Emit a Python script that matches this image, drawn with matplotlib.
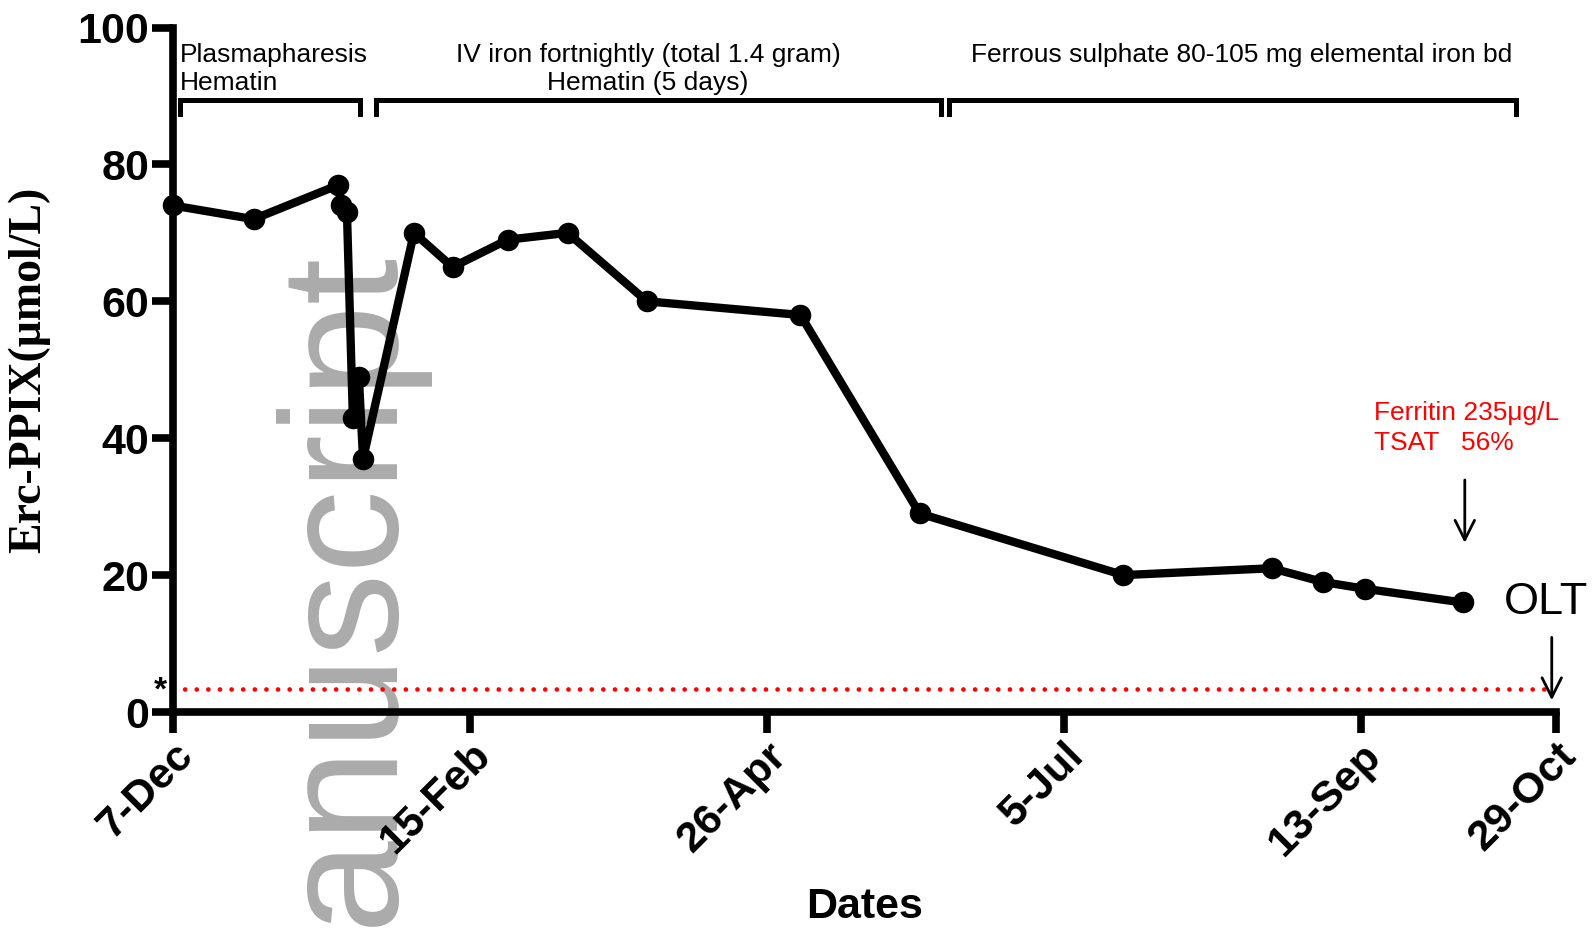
import matplotlib.pyplot as plt
import numpy as np
from matplotlib.transforms import ScaledTranslation

plt.switch_backend('agg')

# days counted from 7-Dec
days = [0, 19, 39, 39.6, 41, 42.4, 43.8, 44.8, 56.8, 65.9, 78.9, 93, 111.7,
        147.9, 176, 224, 259, 271, 281, 304]
erc_ppix = [74, 72, 77, 74, 73, 43, 49, 37, 70, 65, 69, 70, 60, 58, 29,
            20, 21, 19, 18, 16]

tick_days = [0, 70, 140, 210, 280, 326]
tick_labels = ['7-Dec', '15-Feb', '26-Apr', '5-Jul', '13-Sep', '29-Oct']
y_ticks = [0, 20, 40, 60, 80, 100]

ref_level = 3.4
olt_day = 325

# treatment periods: (start, end, text, text x, alignment)
periods = [
    (1.7, 44.1, 'Plasmapharesis\nHematin', 1.7, 'left'),
    (47.9, 181, 'IV iron fortnightly (total 1.4 gram)\nHematin (5 days)', 112, 'center'),
    (183, 316.5, 'Ferrous sulphate 80-105 mg elemental iron bd', 252, 'center'),
]

W, H = 1595, 933
fig = plt.figure(figsize=(W / 100, H / 100), dpi=100)
ax = fig.add_axes([173 / W, 1 - 712 / H, (1556 - 173) / W, (712 - 27.5) / H])

ax.plot(days, erc_ppix, color='black', lw=6, marker='o', ms=14.5, zorder=3,
        clip_on=False)

ax.plot([0, olt_day], [ref_level, ref_level], color='red', lw=3.4,
        linestyle=(0, (0.01, 2.45)), dash_capstyle='round', zorder=2, clip_on=False)
ax.text(-1.5, ref_level - 0.4, '*', ha='right', va='center', fontsize=24,
        fontfamily='Liberation Sans', fontweight='bold')

ax.set_xlim(0, 326)
ax.set_ylim(0, 100)
ax.set_xticks(tick_days)
ax.set_xticklabels(tick_labels, rotation=45, ha='right', rotation_mode='anchor')
ax.set_yticks(y_ticks)
for lab in ax.get_xticklabels() + ax.get_yticklabels():
    lab.set_fontfamily('Liberation Sans')
    lab.set_fontweight('bold')
    lab.set_fontsize(31)
shift = ScaledTranslation(-6 / 100, -3 / 100, fig.dpi_scale_trans)
for lab in ax.get_xticklabels():
    lab.set_transform(lab.get_transform() + shift)
ax.tick_params(axis='both', length=15, width=5.5, direction='out')
ax.tick_params(axis='y', pad=2)
ax.tick_params(axis='x', pad=2)
for s in ['top', 'right']:
    ax.spines[s].set_visible(False)
for s in ['left', 'bottom']:
    ax.spines[s].set_linewidth(5.5)

ax.set_xlabel('Dates', fontsize=31, fontweight='bold', fontfamily='Liberation Sans')
ax.xaxis.set_label_coords(0.5, -0.255)
ax.set_ylabel('Erc-PPIX(\u03bcmol/L)', fontsize=33, fontweight='bold',
              fontfamily='Liberation Serif')
ax.yaxis.set_label_coords(-0.089, 0.5)

# period brackets
for x0, x1, txt, tx, ha in periods:
    ax.plot([x0, x0, x1, x1], [87.3, 89.4, 89.4, 87.3], color='black', lw=3.6,
            solid_joinstyle='miter', clip_on=False)
    ax.text(tx, 97.8, txt, ha=ha, va='top', fontsize=19,
            fontfamily='Liberation Sans', linespacing=1.22, multialignment=ha)

ax.text(283, 45.4, 'Ferritin 235\u03bcg/L\nTSAT   56%', color='red', ha='left',
        va='top', fontsize=19, fontfamily='Liberation Sans', linespacing=1.3)
ax.annotate('', xy=(304.5, 24.3), xytext=(304.5, 34.3),
            arrowprops=dict(arrowstyle='->', color='black', lw=2,
                            mutation_scale=35))
ax.text(313.6, 16.0, 'OLT', ha='left', va='center', fontsize=32.5,
        fontfamily='Liberation Sans', clip_on=False)
ax.annotate('', xy=(olt_day, 1.3), xytext=(olt_day, 11.3),
            arrowprops=dict(arrowstyle='->', color='black', lw=2,
                            mutation_scale=35), annotation_clip=False)

# watermark
ax.text(391 / W, 7 / H, 'anuscript', transform=fig.transFigure, rotation=90,
        rotation_mode='anchor', ha='left', va='baseline', fontsize=120,
        fontfamily='Liberation Sans', color='#ababab', zorder=1, clip_on=False)

fig.savefig('out.png', dpi=100)
